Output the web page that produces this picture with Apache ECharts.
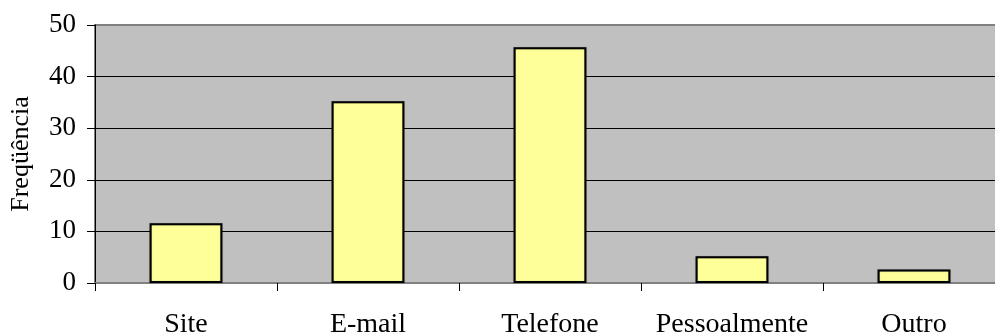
<!DOCTYPE html>
<html>
<head>
<meta charset="utf-8">
<script src="https://cdn.jsdelivr.net/npm/echarts@6/dist/echarts.min.js"></script>
<style>
  html, body { margin: 0; padding: 0; background: #ffffff; overflow: hidden; }
  #chart { width: 995px; height: 334px; }
</style>
</head>
<body>
<div id="chart"></div>
<script>
// Contact channels and their frequencies (%)
const categories = ['Site', 'E-mail', 'Telefone', 'Pessoalmente', 'Outro'];
const frequencies = [11.6, 35.2, 45.7, 5.2, 2.6];
const yTicks = [0, 10, 20, 30, 40, 50];

const serif = '"Liberation Serif", "Times New Roman", serif';

const chart = echarts.init(document.getElementById('chart'), null, { renderer: 'canvas' });

chart.setOption({
  animation: false,
  backgroundColor: '#ffffff',
  grid: {
    left: 95,
    top: 25,
    height: 258,
    width: 910,
    outerBoundsMode: 'none',
    containLabel: false,
    show: true,
    backgroundColor: '#c0c0c0',
    borderColor: '#808080',
    borderWidth: 2
  },
  xAxis: {
    type: 'category',
    data: categories,
    axisLine: { show: true, lineStyle: { color: '#808080', width: 2 } },
    axisTick: { show: true, length: 8, lineStyle: { color: '#000000', width: 1 } },
    axisLabel: { color: '#000000', fontFamily: serif, fontSize: 28, margin: 28, interval: 0, hideOverlap: false },
    splitLine: { show: false }
  },
  yAxis: {
    type: 'value',
    min: yTicks[0],
    max: yTicks[yTicks.length - 1],
    interval: 10,
    name: 'Freqüência',
    nameLocation: 'middle',
    nameGap: 61,
    nameRotate: 90,
    nameTextStyle: { color: '#000000', fontFamily: serif, fontSize: 26 },
    axisLine: { show: true, lineStyle: { color: '#000000', width: 1 } },
    axisTick: { show: true, length: 8, lineStyle: { color: '#000000', width: 1 } },
    axisLabel: { color: '#000000', fontFamily: serif, fontSize: 27, margin: 19 },
    splitLine: { show: true, showMaxLine: false, lineStyle: { color: '#000000', width: 1 } }
  },
  series: [{
    type: 'bar',
    data: frequencies,
    barWidth: '40%',
    itemStyle: {
      color: '#ffff99',
      borderColor: '#000000',
      borderWidth: 2,
      shadowColor: 'rgba(0,0,0,0.35)',
      shadowBlur: 1
    }
  }]
});
</script>
</body>
</html>
